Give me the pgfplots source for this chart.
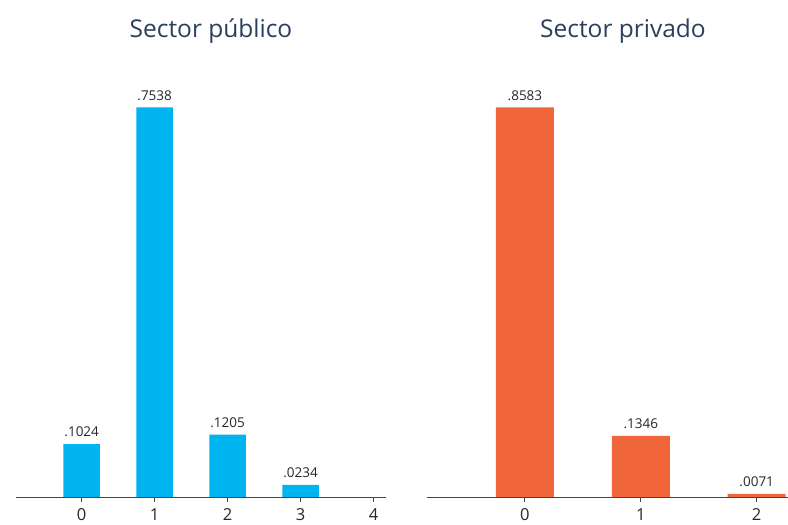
\documentclass[border=0pt]{standalone}
\usepackage{pgfplots}
\pgfplotsset{compat=1.18}
\usepackage{fontspec}
\setmainfont{Open Sans}
\definecolor{titlec}{HTML}{2A3F5F}
\definecolor{cyanbar}{HTML}{00B4EF}
\definecolor{orangebar}{HTML}{F0663A}
\definecolor{axisc}{HTML}{444444}
\pgfplotsset{
  panel/.style={
    scale only axis,
    anchor=south west,
    ymin=0,
    axis x line=bottom,
    axis y line=none,
    x axis line style={-, color=axisc, line width=0.9pt},
    xtick=data,
    tick align=outside,
    xtick pos=bottom,
    major tick length=5pt,
    xtick style={color=axisc, line width=0.9pt},
    ticklabel style={font=\fontsize{16.5}{18}\selectfont, text=black!85},
    /pgf/number format/assume math mode=true,
    xticklabel style={yshift=-3.5pt},
    ybar,
    bar width=0.5,
    point meta=explicit symbolic,
    nodes near coords,
    nodes near coords style={font=\fontsize{13.5}{15}\selectfont, text=black!85, yshift=3.5pt},
    clip=false,
  }
}
\begin{document}
\begin{tikzpicture}
\path[use as bounding box] (0,0) rectangle (788pt,525pt);
\begin{axis}[panel, at={(16pt,28pt)}, width=370pt, height=437pt,
  xmin=-0.9, xmax=4.17, ymax=0.8453, xtick={0,1,2,3,4}]
\addplot[fill=cyanbar, draw=none] coordinates {
  (0,0.1024) [.1024]
  (1,0.7538) [.7538]
  (2,0.1205) [.1205]
  (3,0.0234) [.0234]
};
\end{axis}
\begin{axis}[panel, at={(427pt,28pt)}, width=361pt, height=437pt,
  xmin=-0.845, xmax=2.27, ymax=0.9626, xtick={0,1,2}]
\addplot[fill=orangebar, draw=none] coordinates {
  (0,0.8583) [.8583]
  (1,0.1346) [.1346]
  (2,0.0071) [.0071]
};
\end{axis}
\node[text=titlec, font=\fontsize{24.5}{28}\selectfont] at (211pt,494pt) {Sector público};
\node[text=titlec, font=\fontsize{24.5}{28}\selectfont] at (623pt,494pt) {Sector privado};
\end{tikzpicture}
\end{document}
